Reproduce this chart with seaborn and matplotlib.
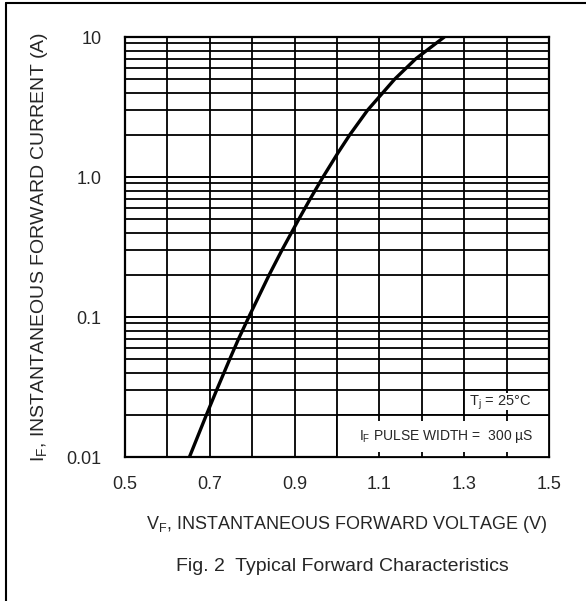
import numpy as np
import pandas as pd
import matplotlib.pyplot as plt
import seaborn as sns
from matplotlib.lines import Line2D
from matplotlib.patches import Rectangle

# forward curve
vf = [0.652, 0.692, 0.716, 0.747, 0.768, 0.792, 0.840, 0.870, 0.910, 0.937,
      0.967, 1.003, 1.030, 1.072, 1.136, 1.186, 1.253]
i_f = [0.01, 0.02, 0.03, 0.05, 0.07, 0.1, 0.2, 0.3, 0.5, 0.7,
       1.0, 1.5, 2.0, 3.0, 5.0, 7.0, 10.0]

x_ticks = [0.5, 0.7, 0.9, 1.1, 1.3, 1.5]
x_tick_labels = ["0.5", "0.7", "0.9", "1.1", "1.3", "1.5"]
y_ticks = [0.01, 0.1, 1.0, 10]
y_tick_labels = ["0.01", "0.1", "1.0", "10"]

df = pd.DataFrame({"VF": vf, "IF": i_f})

sns.set_style("white")
plt.rcParams['font.family'] = ['Liberation Sans', 'DejaVu Sans']
plt.rcParams['mathtext.fontset'] = 'custom'
plt.rcParams['mathtext.rm'] = 'Liberation Sans'
plt.rcParams['mathtext.it'] = 'Liberation Sans'

fig = plt.figure(figsize=(5.86, 6.01), dpi=100)
ax = fig.add_axes([0.2133, 0.2396, 0.7236, 0.6988])

ax.set_yscale("log")
ax.set_xlim(0.5, 1.5)
ax.set_ylim(0.01, 10)

# grid: every 0.1 V, log minor lines on y
for x in np.arange(0.5, 1.501, 0.1):
    ax.axvline(x, color="black", lw=1.3, zorder=1)
for dec in [0.01, 0.1, 1.0]:
    for m in range(1, 11):
        ax.axhline(dec * m, color="black", lw=1.3, zorder=1)

sns.lineplot(data=df, x="VF", y="IF", ax=ax, color="black", lw=2.4, zorder=5)

# condition boxes (bottom right)
ax.add_patch(Rectangle((1.0, 0.01), 0.5, 0.01, facecolor="white",
                       edgecolor="black", lw=1.3, zorder=3))
ax.add_patch(Rectangle((1.3, 0.02), 0.2, 0.01, facecolor="white",
                       edgecolor="black", lw=1.3, zorder=3))
for x in [1.1, 1.2, 1.3, 1.4]:
    ax.vlines(x, 0.01, 0.0108, color="black", lw=1.3, zorder=4)
    ax.vlines(x, 0.0182, 0.02, color="black", lw=1.3, zorder=4)
ax.vlines(1.4, 0.02, 0.0215, color="black", lw=1.3, zorder=4)
ax.vlines(1.4, 0.0285, 0.03, color="black", lw=1.3, zorder=4)
ax.text(1.385, 0.0245, r"T$_\mathregular{j}$ = 25°C", ha="center", va="center",
        fontsize=10.5, zorder=6)
ax.text(1.258, 0.0141, r"I$_\mathregular{F}$ PULSE WIDTH =  300 µS", ha="center",
        va="center", fontsize=10, zorder=6)

ax.set_xticks(x_ticks)
ax.set_xticklabels(x_tick_labels)
ax.set_yticks(y_ticks)
ax.set_yticklabels(y_tick_labels)
ax.yaxis.set_minor_locator(plt.NullLocator())
ax.tick_params(axis="y", length=0, labelsize=13, pad=17)
ax.tick_params(axis="x", length=0, labelsize=13, pad=14)

for s in ax.spines.values():
    s.set_color("black")
    s.set_linewidth(1.6)

ax.set_xlabel(r"V$_\mathregular{F}$, INSTANTANEOUS FORWARD VOLTAGE (V)", fontsize=13)
ax.xaxis.set_label_coords(0.523, -0.135)
ax.set_ylabel(r"I$_\mathregular{F}$, INSTANTANEOUS FORWARD CURRENT (A)",
              fontsize=14, labelpad=12)

fig.text(0.585, 0.057, "Fig. 2  Typical Forward Characteristics",
         ha="center", va="center", fontsize=14)

# frame of the scanned figure (left and top edges)
fig.add_artist(Line2D([6 / 586, 6 / 586], [0, 1 - 3 / 601], color="black", lw=1.5))
fig.add_artist(Line2D([6 / 586, 1], [1 - 3 / 601, 1 - 3 / 601], color="black", lw=1.5))

fig.savefig("out.png", dpi=100)
